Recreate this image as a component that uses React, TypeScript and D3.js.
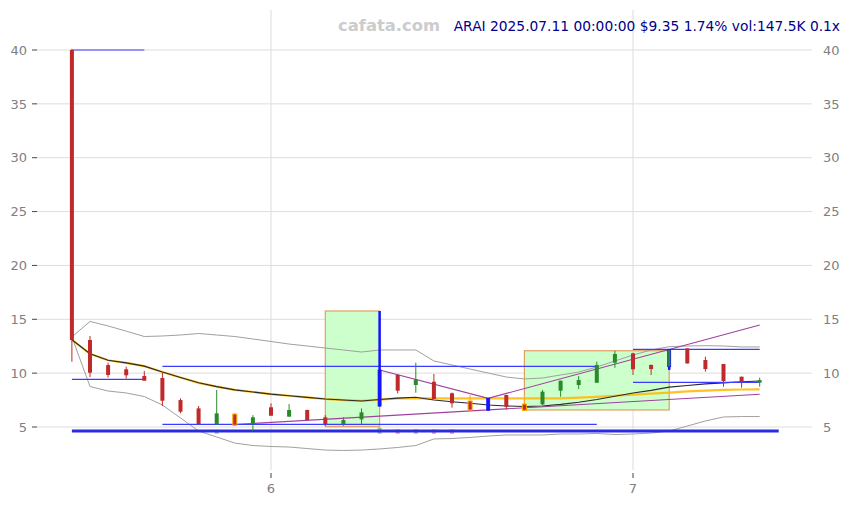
import React from 'react';
import * as d3 from 'd3';

// ---- data (index 0 = 2025-05-15, 11 = 2025-06-02, 31 = 2025-07-01, 38 = 2025-07-11)
const opens = [40.0, 13.08, 10.75, 10.36, 9.73, 9.55, 7.5, 6.73, 5.25, 6.2, 5.28, 6.83, 5.96, 6.58, 5.9, 5.28, 5.71, 6.95, 9.83, 8.9, 9.2, 8.13, 7.41, 7.66, 7.97, 7.13, 7.1, 8.37, 8.9, 9.11, 10.97, 11.84, 10.76, 10.6, 12.3, 11.22, 10.85, 9.67, 9.12];
const highs = [40.1, 13.45, 10.97, 10.6, 10.2, 10.04, 7.66, 6.95, 8.43, 6.3, 6.1, 7.2, 7.13, 6.6, 6.1, 5.9, 6.73, 15.77, 9.9, 10.97, 9.92, 8.2, 7.97, 7.7, 8.0, 7.44, 8.43, 9.3, 9.73, 11.06, 12.08, 11.9, 10.8, 12.2, 12.3, 11.53, 10.85, 9.67, 9.58];
const lows = [11.06, 9.64, 9.6, 9.5, 9.3, 6.95, 6.27, 5.28, 5.25, 5.15, 4.63, 6.05, 5.96, 5.65, 5.1, 5.1, 5.28, 6.9, 8.12, 8.18, 7.6, 6.8, 6.58, 6.5, 6.64, 6.5, 7.04, 7.81, 8.53, 9.11, 10.5, 9.83, 9.83, 10.3, 10.9, 10.14, 8.74, 8.65, 8.74];
const closes = [13.08, 10.04, 9.83, 9.8, 9.3, 7.44, 6.42, 5.28, 6.27, 5.16, 5.9, 6.05, 6.58, 5.65, 5.28, 5.65, 6.36, 10.29, 8.37, 9.42, 7.6, 7.2, 6.58, 6.58, 6.88, 6.55, 8.28, 9.3, 9.36, 10.76, 11.78, 10.36, 10.38, 12.2, 10.9, 10.38, 9.27, 9.19, 9.35];
const volumes = [0, 0, 0, 0, 0, 0, 0, 0, 2.0, 0, 0, 0, 0, 0, 0, 0, 0, 3.0, 2.1, 2.2, 2.1, 2.1, 0, 0, 0, 0, 0, 0, 0, 0, 0, 0, 0, 0, 0, 0, 0, 0, 0];

const maFast = [13.1, 11.8, 11.2, 10.95, 10.65, 10.1, 9.6, 9.1, 8.75, 8.45, 8.25, 8.05, 7.9, 7.75, 7.6, 7.5, 7.42, 7.55, 7.68, 7.76, 7.5, 7.35, 7.2, 7.04, 6.95, 6.9, 6.95, 7.1, 7.3, 7.55, 7.85, 8.15, 8.4, 8.7, 8.85, 9.0, 9.1, 9.2, 9.27];
const maSlow = [13.1, 11.8, 11.2, 10.95, 10.65, 10.1, 9.6, 9.1, 8.75, 8.45, 8.25, 8.05, 7.9, 7.75, 7.6, 7.5, 7.42, 7.55, 7.66, 7.66, 7.66, 7.66, 7.66, 7.66, 7.66, 7.66, 7.66, 7.66, 7.72, 7.8, 7.9, 8.0, 8.1, 8.2, 8.3, 8.38, 8.44, 8.48, 8.5];
const bandUpper = [13.36, 14.8, 14.38, 13.9, 13.4, 13.45, 13.54, 13.68, 13.54, 13.4, 13.17, 12.94, 12.7, 12.52, 12.33, 12.15, 11.96, 12.15, 12.15, 12.15, 11.13, 10.76, 10.38, 10.01, 9.64, 9.46, 9.55, 9.83, 10.1, 10.57, 11.13, 11.68, 12.15, 12.46, 12.52, 12.55, 12.52, 12.43, 12.43];
const bandLower = [13.36, 8.76, 8.34, 8.16, 7.83, 7.04, 5.84, 4.63, 4.07, 3.51, 3.28, 3.19, 3.14, 3.0, 2.86, 2.82, 2.86, 2.96, 3.1, 3.28, 3.89, 3.93, 4.03, 4.16, 4.26, 4.26, 4.26, 4.35, 4.35, 4.4, 4.3, 4.35, 4.44, 4.63, 5.09, 5.56, 5.93, 5.97, 5.97];

const trendAIdx = [9, 38];
const trendAVal = [5.23, 8.04];
const trendBIdx = [17, 23, 38];
const trendBVal = [10.29, 7.66, 14.47];

const levelValues = [40, 9.43, 10.63, 5.25, 12.21, 9.15];
const levelStart = [0, 0, 5, 5, 31, 31];
const levelEnd = [4, 4, 29, 29, 38, 38];
const baseLevel = 4.63;
const baseStart = 0;
const baseEnd = 39.05;

const boxStart = [14, 25];
const boxEnd = [17, 33];
const boxTop = [15.77, 12.08];
const boxBottom = [5.03, 6.58];

const blueIdx = [17, 23, 33];
const orangeIdx = [9, 22, 25];

const yTicks = [5, 10, 15, 20, 25, 30, 35, 40];
const xTickIdx = [11, 31];
const xTickLabels = ['6', '7'];

const brand = 'cafata.com';
const title = 'ARAI 2025.07.11 00:00:00 $9.35 1.74% vol:147.5K 0.1x';

export default function App() {
  const W = 850, H = 505;
  const x = d3.scaleLinear().domain([11, 31]).range([271, 633]);
  const y = d3.scaleLinear().domain([5, 40]).range([427, 50]);
  const plotTop = 10, plotBottom = 470, gridL = 37, gridR = 812;
  const idx = d3.range(closes.length);
  const red = '#bf2a2a', green = '#2a8a2a', blue = '#1414ff', orange = '#ffa500';
  const line = d3.line<number>().x((_, i) => x(i)).y((v) => y(v));
  const bw = 4;
  const volH = d3.scaleLinear().domain([0, d3.max(volumes) as number]).range([0, 6]);
  const font = 'DejaVu Sans, sans-serif';

  return (
    <svg width={W} height={H} style={{ position: 'fixed', left: 0, top: 0, background: '#fff' }} fontFamily={font}>
      <rect x={0} y={0} width={W} height={H} fill="#fff" />
      {/* grid */}
      {yTicks.map((t) => (
        <g key={'yt' + t}>
          <line x1={gridL} x2={gridR} y1={y(t)} y2={y(t)} stroke="#dddddd" strokeWidth={1} />
          <line x1={32} x2={gridL} y1={y(t)} y2={y(t)} stroke="#444" strokeWidth={1} />
          <text x={27} y={y(t)} dy="0.36em" textAnchor="end" fontSize={13} fill="#808080">{t}</text>
          <text x={823} y={y(t)} dy="0.36em" textAnchor="start" fontSize={13} fill="#808080">{t}</text>
        </g>
      ))}
      {xTickIdx.map((t, k) => (
        <g key={'xt' + t}>
          <line x1={x(t)} x2={x(t)} y1={plotTop} y2={plotBottom} stroke="#dddddd" strokeWidth={1} />
          <line x1={x(t)} x2={x(t)} y1={473} y2={478} stroke="#444" strokeWidth={1} />
          <text x={x(t)} y={493} textAnchor="middle" fontSize={13} fill="#808080">{xTickLabels[k]}</text>
        </g>
      ))}
      {/* boxes */}
      {boxStart.map((s, k) => (
        <rect key={'box' + k} x={x(s)} y={y(boxTop[k])} width={x(boxEnd[k]) - x(s)} height={y(boxBottom[k]) - y(boxTop[k])}
          fill="#ccffcc" stroke="#e0a060" strokeWidth={1.2} />
      ))}
      {/* bands */}
      <path d={line(bandUpper) || ''} fill="none" stroke="#a0a0a0" strokeWidth={1} />
      <path d={line(bandLower) || ''} fill="none" stroke="#a0a0a0" strokeWidth={1} />
      {/* moving averages */}
      <path d={line(maSlow) || ''} fill="none" stroke="#ffb700" strokeWidth={2.2} strokeOpacity={0.85} />
      <path d={line(maFast) || ''} fill="none" stroke="#2a2a2a" strokeWidth={1.1} />
      {/* trend lines */}
      <path d={d3.line<number>().x((v) => x(v)).y((_, i) => y(trendAVal[i]))(trendAIdx) || ''} fill="none" stroke="#a040a0" strokeWidth={1.2} />
      <path d={d3.line<number>().x((v) => x(v)).y((_, i) => y(trendBVal[i]))(trendBIdx) || ''} fill="none" stroke="#a040a0" strokeWidth={1.2} />
      {/* levels */}
      {levelValues.map((v, k) => (
        <line key={'lv' + k} x1={x(levelStart[k])} x2={x(levelEnd[k])} y1={y(v)} y2={y(v)} stroke="#3c3cff" strokeWidth={1.2} />
      ))}
      {/* volume */}
      {idx.map((i) => volumes[i] > 0 ? (
        <rect key={'v' + i} x={x(i) - bw / 2} y={433.7 - volH(volumes[i])} width={bw} height={volH(volumes[i])}
          fill={closes[i] >= opens[i] ? green : red} fillOpacity={0.5} />
      ) : null)}
      <line x1={x(baseStart)} x2={x(baseEnd)} y1={y(baseLevel)} y2={y(baseLevel)} stroke="#2a2ae0" strokeWidth={3} />
      {/* candles */}
      {idx.map((i) => {
        const up = closes[i] >= opens[i];
        const isBlue = blueIdx.includes(i);
        const isOrange = orangeIdx.includes(i);
        const col = up ? green : red;
        const top = y(Math.max(opens[i], closes[i]));
        const bot = y(Math.min(opens[i], closes[i]));
        const cx = x(i);
        if (isBlue) {
          return (
            <g key={'c' + i}>
              <line x1={cx} x2={cx} y1={y(highs[i])} y2={y(lows[i])} stroke={blue} strokeWidth={2.5} />
              <rect x={cx - 1.5} y={top} width={3} height={Math.max(1, bot - top)} fill={i === 33 ? green : blue} stroke={blue} strokeWidth={0.8} />
            </g>
          );
        }
        return (
          <g key={'c' + i}>
            <line x1={cx} x2={cx} y1={y(highs[i])} y2={y(lows[i])} stroke={isOrange ? orange : col} strokeWidth={1} />
            <rect x={cx - bw / 2} y={top} width={bw} height={Math.max(1, bot - top)} fill={col}
              stroke={isOrange ? orange : 'none'} strokeWidth={isOrange ? 1 : 0} />
          </g>
        );
      })}
      {/* title */}
      <text x={338} y={31} fontSize={16.4} fontWeight="bold" fill="#cccccc">{brand}</text>
      <text x={840} y={31} textAnchor="end" fontSize={13.8} fill="#00008b">{title}</text>
    </svg>
  );
}
